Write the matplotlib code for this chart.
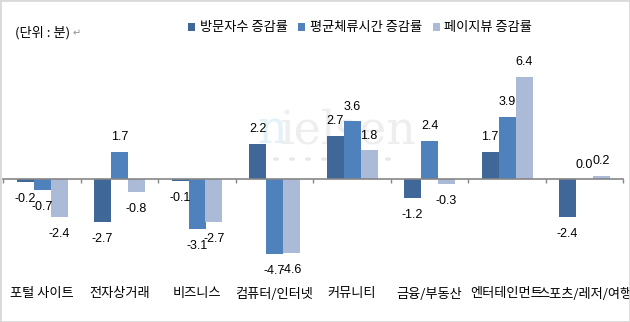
import numpy as np
import matplotlib
matplotlib.use('Agg')
import matplotlib.pyplot as plt
from matplotlib.patches import Rectangle, Circle

plt.rcParams['font.family'] = ['Noto Sans CJK KR', 'DejaVu Sans']

categories = ['포털 사이트', '전자상거래', '비즈니스', '컴퓨터/인터넷',
              '커뮤니티', '금융/부동산', '엔터테인먼트', '스포츠/레저/여행']
series_names = ['방문자수 증감률', '평균체류시간 증감률', '페이지뷰 증감률']
visitors = [-0.2, -2.7, -0.1, 2.2, 2.7, -1.2, 1.7, -2.4]
stay_time = [-0.7, 1.7, -3.1, -4.7, 3.6, 2.4, 3.9, 0.0]
page_views = [-2.4, -0.8, -2.7, -4.6, 1.8, -0.3, 6.4, 0.2]
colors = ['#3F6899', '#4F81BD', '#AABAD7']

W, H = 630, 322
fig = plt.figure(figsize=(W / 100, H / 100), dpi=100)
ax = fig.add_axes([0, 0, 1, 1])
ax.patch.set_alpha(0)

# pixel layout: zero line at y=179, 16 px per unit, groups 77.5 px apart
zero_px, unit_px = 179, 16.0
first_px, step_px = 42, 77.5
ax.set_ylim(-(H - zero_px) / unit_px, zero_px / unit_px)
ax.set_xlim((0 - first_px) / step_px, (W - first_px) / step_px)

# faint watermark behind the bars
ft = fig.transFigure
ax.text(257 / W, 1 - 143 / H, 'n', color='#E2F2F8', fontsize=33,
        family='DejaVu Serif', va='baseline', transform=ft, zorder=0)
ax.text(279 / W, 1 - 143 / H, 'ielsen', color='#EEEEEE', fontsize=33,
        family='DejaVu Serif', va='baseline', transform=ft, zorder=0)
for k in range(9):
    ax.add_patch(Circle(((260 + 16 * k) / W, 1 - 159 / H), 2.2 / W,
                        transform=ft, color='#E8E8E8', zorder=0))

x = np.arange(len(categories))
bw = 17 / step_px
data = [visitors, stay_time, page_views]
for j, (vals, c) in enumerate(zip(data, colors)):
    xs = x + (j - 1) * bw
    ax.bar(xs, vals, width=bw, color=c, label=series_names[j], zorder=2)
    for xi, v in zip(xs, vals):
        if v >= 0:
            ax.annotate(f'{v:.1f}', (xi, v), xytext=(0, 8.5),
                        textcoords='offset pixels', ha='center', va='bottom',
                        fontsize=9, family='Liberation Sans', color='black',
                        zorder=3)
        else:
            ax.annotate(f'{v:.1f}', (xi, v), xytext=(0, -11),
                        textcoords='offset pixels', ha='center', va='top',
                        fontsize=9, family='Liberation Sans', color='black',
                        zorder=3)

# category axis on the zero line
for s in ['top', 'right', 'left']:
    ax.spines[s].set_visible(False)
ax.spines['bottom'].set_position(('data', 0))
ax.spines['bottom'].set_bounds(-0.5, len(categories) - 0.5)
ax.spines['bottom'].set_color('#868686')
ax.spines['bottom'].set_linewidth(1.2)
ax.spines['bottom'].set_zorder(4)
ax.set_xticks(np.arange(len(categories) + 1) - 0.5)
ax.set_xticklabels([])
ax.tick_params(axis='x', direction='out', length=3, width=1,
               color='#868686')
ax.set_yticks([])

for xi, name in zip(x, categories):
    ax.text(xi, -(294 - zero_px) / unit_px, name, ha='center', va='center',
            fontsize=9.5, color='black')

fig.text(15 / W, 1 - 33 / H, '(단위 : 분)', fontsize=9.5, va='center',
         color='black')
fig.text(73 / W, 1 - 33 / H, '↵', fontsize=7, va='center', color='#909090',
         family='DejaVu Sans')

fig.legend(loc='center', bbox_to_anchor=(360 / W, 1 - 28 / H), ncol=3,
           frameon=False, fontsize=9.5, handlelength=0.55, handleheight=0.55,
           handletextpad=0.35, columnspacing=0.8, borderpad=0)

fig.patches.append(Rectangle((0, 0), 1, 1, transform=fig.transFigure,
                             fill=False, edgecolor='#D9D9D9', lw=2))

fig.savefig('out.png', dpi=100)
